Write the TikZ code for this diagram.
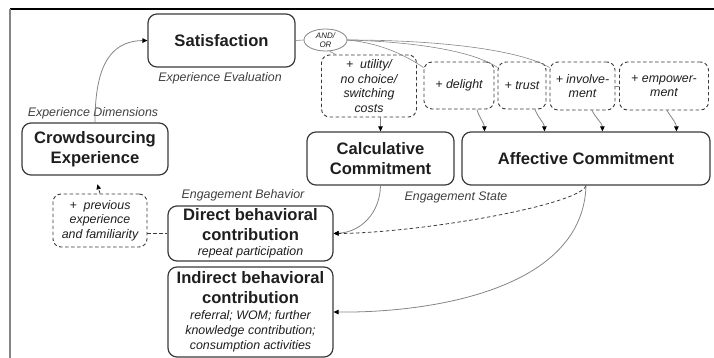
\documentclass[tikz,border=0pt]{standalone}
\usepackage{fontspec}
\setmainfont{Liberation Sans}
\usetikzlibrary{arrows.meta,shapes.geometric,calc}
\definecolor{boxc}{HTML}{3A3A3A}
\definecolor{linec}{HTML}{858585}
\definecolor{txtc}{HTML}{1E1E1E}
\newcommand{\MyBig}{\fontsize{16.6}{20}\selectfont\bfseries}
\newcommand{\MyIt}{\fontsize{12.4}{14.5}\selectfont\itshape\mdseries}
\begin{document}
\begin{tikzpicture}[x=1pt,y=-1pt,
  box/.style={draw=boxc,line width=1.2pt,rounded corners=9pt,inner sep=0pt,align=center,text=txtc,font=\MyBig},
  dbox/.style={draw=boxc,line width=0.9pt,dash pattern=on 3.5pt off 2.5pt,rounded corners=8pt,inner sep=0pt,align=center,text=txtc,font=\MyIt},
  lab/.style={font=\MyIt,text=txtc!85,inner sep=0pt},
  conn/.style={draw=linec,line width=0.8pt,-{Triangle[length=5pt,width=4.5pt,color=black]}},
  dconn/.style={draw=boxc,line width=0.8pt,dash pattern=on 3.5pt off 2.5pt,-{Triangle[length=5pt,width=4.5pt,color=black]}},
  fan/.style={draw=linec,line width=0.6pt},
]
\useasboundingbox (0,0) rectangle (714,358);
% frame
\draw[black,line width=1.2pt] (10,9) -- (714,9);
\draw[linec,line width=2pt] (10,9) -- (10,358);

% solid boxes
\node[box,minimum width=147pt,minimum height=53pt] (sat) at (221.5,40.5) {Satisfaction};
\node[box,minimum width=146pt,minimum height=52pt] (crowd) at (95,149) {Crowdsourcing\\Experience};
\node[box,minimum width=147pt,minimum height=53pt] (calc) at (380.5,158.5) {Calculative\\Commitment};
\node[box,minimum width=248pt,minimum height=53pt] (aff) at (586,158.5) {Affective Commitment};
\node[box,minimum width=165pt,minimum height=55pt] (direct) at (250.5,233.5)
  {Direct behavioral\\contribution\\[-5pt]\MyIt repeat participation};
\node[box,minimum width=165pt,minimum height=90pt] (indirect) at (250.5,312)
  {Indirect behavioral\\contribution\\[-4pt]\MyIt referral; WOM; further\\[-5pt]\MyIt knowledge contribution;\\[-5pt]\MyIt consumption activities};

% AND/OR
\node[draw=linec,line width=0.8pt,ellipse,minimum width=43pt,minimum height=22pt,inner sep=0pt,align=center,
  font=\fontsize{8}{9}\selectfont\itshape,text=txtc] (andor) at (325.5,40) {AND/\\OR};

% dashed boxes
\node[dbox,minimum width=95pt,minimum height=62pt] (util) at (369,86) {+\ \ utility/\\no choice/\\switching\\costs};
\node[dbox,minimum width=70pt,minimum height=47pt] (del) at (459,85.5) {+ delight};
\node[dbox,minimum width=48pt,minimum height=47pt] (tru) at (522,85.5) {+ trust};
\node[dbox,minimum width=65pt,minimum height=48pt] (inv) at (582.5,86) {+ involve-\\ment};
\node[dbox,minimum width=89pt,minimum height=48pt] (emp) at (664,86) {+ empower-\\ment};
\node[dbox,minimum width=94pt,minimum height=53pt] (prev) at (100,220.5) {+\ \ previous\\experience\\and familiarity};

% labels
\node[lab] (evallab) at (220,78) {Experience Evaluation};
\node[lab] (dimlab) at (93,113) {Experience Dimensions};
\node[lab] (behlab) at (243,195) {Engagement Behavior};
\node[lab] (statelab) at (456,197) {Engagement State};

% connectors
\draw[fan] (sat.east) -- (andor.west);
\draw[fan] (andor.-70) -- ($(util.north west)+(15,0)$);
\draw[fan] (andor.east) .. controls (380,43) and (405,55) .. ($(del.north west)+(0,6)$);
\draw[fan] (andor.east) .. controls (420,42) and (475,52) .. ($(tru.north west)+(0,6)$);
\draw[fan] (andor.east) .. controls (440,40) and (520,50) .. ($(inv.north west)+(0,6)$);
\draw[fan] (inv.east) -- (emp.west);

\draw[conn] (crowd.north) .. controls (95,70) and (108,41) .. (sat.west);
\draw[dconn,shorten >=9pt] (prev.north) -- (crowd.south);
\draw[boxc,line width=0.8pt,dash pattern=on 3.5pt off 2.5pt] (prev.east |- direct.west) -- (direct.west);

\draw[conn] (calc.north |- util.south) -- (calc.north);
\draw[conn] ($(del.south)+(18,0)$) .. controls +(2,8) and +(0,-8) .. ($(aff.north west)+(23,0)$);
\draw[conn] ($(tru.south)+(13,0)$) .. controls +(3,8) and +(0,-8) .. ($(aff.north west)+(83,0)$);
\draw[conn] ($(inv.south)+(9.5,0)$) .. controls +(4,8) and +(0,-8) .. ($(aff.north west)+(141,0)$);
\draw[conn] ($(emp.south)+(3,0)$) .. controls +(5,8) and +(0,-8) .. ($(aff.north west)+(215,0)$);

\draw[conn] (calc.south) .. controls (380,212) and (362,232) .. (direct.east);
\draw[dconn] (aff.south) .. controls (580,205) and (420,233) .. (direct.east);
\draw[conn] (aff.south) .. controls (583,290) and (430,313) .. (indirect.east);
\end{tikzpicture}
\end{document}
